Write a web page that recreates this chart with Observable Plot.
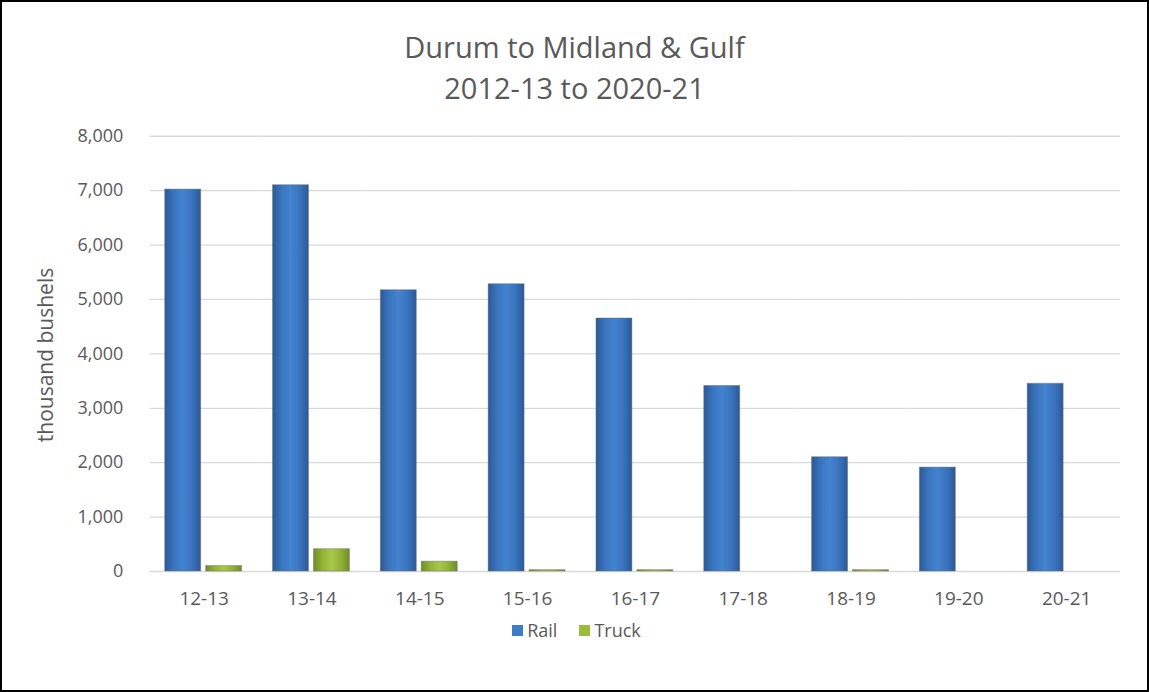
<!DOCTYPE html>
<html>
<head>
<meta charset="utf-8">
<script src="https://cdn.jsdelivr.net/npm/d3@7"></script>
<script src="https://cdn.jsdelivr.net/npm/@observablehq/plot@0.6"></script>
<style>
  html, body { margin: 0; padding: 0; background: #fff; }
  #frame {
    position: relative; width: 1149px; height: 692px; box-sizing: border-box;
    border: 2px solid #000; background: #fff; overflow: hidden;
    font-family: "Open Sans", "Liberation Sans", sans-serif; color: #595959;
  }
  #title {
    position: absolute; left: -2px; top: 24px; width: 1149px; text-align: center;
    font-size: 29px; line-height: 41px; color: #595959; z-index: 2;
  }
  #chart { position: absolute; left: -2px; top: -2px; }
  #ylabel {
    position: absolute; left: 43px; top: 353px; transform: translate(-50%, -50%) rotate(-90deg);
    font-size: 21px; color: #595959; white-space: nowrap; z-index: 2;
  }
  #legend {
    position: absolute; left: 0px; top: 616px; width: 1149px; text-align: center;
    font-size: 18px; color: #595959; display: flex; justify-content: center; gap: 22px;
  }
  .key { display: inline-flex; align-items: center; gap: 4px; }
  .sw { display: inline-block; width: 11px; height: 11px; }
</style>
</head>
<body>
<div id="frame">
  <div id="title">Durum to Midland &amp; Gulf<br>2012-13 to 2020-21</div>
  <div id="chart"></div>
  <div id="ylabel"></div>
  <div id="legend"></div>
</div>
<script>
const seasons = ["12-13", "13-14", "14-15", "15-16", "16-17", "17-18", "18-19", "19-20", "20-21"];
const rail = [7020, 7100, 5170, 5280, 4650, 3410, 2100, 1910, 3450];
const truck = [100, 410, 180, 25, 25, 0, 25, 0, 0];
const seriesNames = ["Rail", "Truck"];
const yTicks = [0, 1000, 2000, 3000, 4000, 5000, 6000, 7000, 8000];
const yLabel = "thousand bushels";

const data = [];
seasons.forEach((s, i) => {
  data.push({season: s, series: "Rail", value: rail[i]});
  data.push({season: s, series: "Truck", value: truck[i]});
});

document.getElementById("ylabel").textContent = yLabel;

const plot = Plot.plot({
  width: 1149,
  height: 620,
  marginLeft: 147,
  marginRight: 24,
  marginTop: 136,
  marginBottom: 48,
  style: {fontFamily: "'Open Sans', sans-serif", fontSize: "18px", color: "#595959", background: "transparent"},
  fx: {domain: seasons, paddingInner: 0, paddingOuter: 0, label: null},
  x: {domain: seriesNames, paddingInner: 0.119, paddingOuter: 0.354, axis: null},
  y: {domain: [0, 8000], ticks: yTicks, grid: false, label: null},
  color: {domain: seriesNames, range: ["url(#gRail)", "url(#gTruck)"]},
  marks: [
    Plot.gridY(yTicks, {stroke: "#d9d9d9", strokeOpacity: 1, strokeWidth: 1.3}),
    Plot.axisY(yTicks, {tickFormat: d3.format(","), tickSize: 0, tickPadding: 27, fontSize: 18, fill: "#595959", label: null}),
    Plot.axisFx({tickSize: 0, tickPadding: 20, fontSize: 19, fill: "#595959", label: null, anchor: "bottom"}),
    Plot.barY(data, {fx: "season", x: "series", y: "value", fill: "series", stroke: "#6b6b6b", strokeOpacity: 0.45, strokeWidth: 1})
  ]
});

// gradients for the bevelled bar look
const svg = d3.select(plot);
const defs = svg.insert("defs", ":first-child");
function grad(id, edge, mid, light) {
  const g = defs.append("linearGradient").attr("id", id).attr("x1", "0").attr("x2", "1").attr("y1", "0").attr("y2", "0");
  g.append("stop").attr("offset", "0%").attr("stop-color", edge);
  g.append("stop").attr("offset", "25%").attr("stop-color", mid);
  g.append("stop").attr("offset", "50%").attr("stop-color", light);
  g.append("stop").attr("offset", "75%").attr("stop-color", mid);
  g.append("stop").attr("offset", "100%").attr("stop-color", edge);
}
grad("gRail", "#2b5a96", "#3a74bf", "#4383d0");
grad("gTruck", "#6f8d25", "#93b336", "#a8c84a");

document.getElementById("chart").appendChild(plot);

const legend = document.getElementById("legend");
const swatchColors = {Rail: "#3f7cc8", Truck: "#9bbb3c"};
seriesNames.forEach(n => {
  const k = document.createElement("span");
  k.className = "key";
  const sw = document.createElement("span");
  sw.className = "sw";
  sw.style.background = swatchColors[n];
  k.appendChild(sw);
  k.appendChild(document.createTextNode(n));
  legend.appendChild(k);
});
</script>
</body>
</html>
